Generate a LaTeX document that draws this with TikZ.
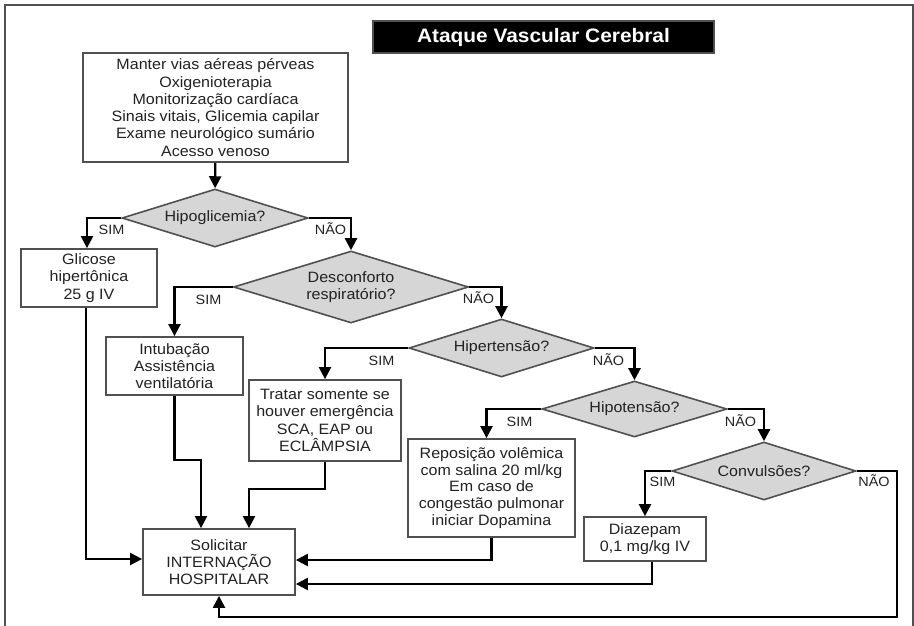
\documentclass[tikz,border=0pt]{standalone}
\usepackage{fontspec}
\setmainfont{Liberation Sans}[FakeStretch=1.07]
\usetikzlibrary{shapes.geometric,arrows.meta}
\definecolor{txt}{HTML}{222222}
\definecolor{bord}{HTML}{505050}
\definecolor{dfill}{HTML}{D6D6D6}
\begin{document}
\begin{tikzpicture}[x=1pt,y=-1pt,
  box/.style={draw=bord, line width=1.8pt, fill=white, text=txt, align=center, inner sep=0pt, font=\fontsize{15}{17.3}\selectfont},
  dia/.style={diamond, draw=bord, line width=1.6pt, fill=dfill, text=txt, align=center, inner sep=0pt, aspect=3.2, font=\fontsize{15}{17.6}\selectfont},
  conn/.style={line width=2.3pt, -{Triangle[length=12pt,width=12pt]}},
  lab/.style={text=txt, font=\fontsize{13.5}{16}\selectfont, anchor=base, inner sep=0pt}]
\useasboundingbox (0,0) rectangle (914,625);
\fill[white] (0,0) rectangle (914,625);
\draw[bord, line width=1.6pt] (5,640) -- (5,5) -- (913,5) -- (913,640);

\node[fill=black, draw=bord, line width=1.2pt, minimum width=341pt, minimum height=32pt, inner sep=0pt,
      text=white, font=\bfseries\fontsize{19.5}{22}\selectfont] (title) at (543.5,37) {Ataque Vascular Cerebral};

\node[box, minimum width=265pt, minimum height=109pt] (top) at (215.5,107.5)
  {Manter vias aéreas pérveas\\Oxigenioterapia\\Monitorização cardíaca\\Sinais vitais, Glicemia capilar\\Exame neurológico sumário\\Acesso venoso};

\node[dia, minimum width=186pt, minimum height=58pt] (d1) at (215,218) {Hipoglicemia?};
\node[dia, minimum width=235pt, minimum height=72pt] (d2) at (351,287) {Desconforto\\respiratório?};
\node[dia, minimum width=185pt, minimum height=58pt] (d3) at (501.5,348) {Hipertensão?};
\node[dia, minimum width=185pt, minimum height=56pt] (d4) at (634.5,409) {Hipotensão?};
\node[dia, minimum width=184pt, minimum height=58pt] (d5) at (764,471) {Convulsões?};

\node[box, minimum width=136pt, minimum height=58pt] (glic) at (89,278) {Glicose\\hipertônica\\25 g IV};
\node[box, minimum width=137pt, minimum height=58pt] (intub) at (174.5,366) {Intubação\\Assistência\\ventilatória};
\node[box, minimum width=152pt, minimum height=81pt] (trat) at (325,420.5) {Tratar somente se\\houver emergência\\SCA, EAP ou\\ECLÂMPSIA};
\node[box, minimum width=167pt, minimum height=98pt, font=\fontsize{15}{16.7}\selectfont] (repos) at (491.5,488) {Reposição volêmica\\com salina 20 ml/kg\\Em caso de\\congestão pulmonar\\iniciar Dopamina};
\node[box, minimum width=122pt, minimum height=44pt] (diaz) at (645,539) {Diazepam\\0,1 mg/kg IV};
\node[box, minimum width=152pt, minimum height=66pt] (solic) at (219,562) {Solicitar\\INTERNAÇÃO\\HOSPITALAR};

\coordinate (c1) at (897,617);

\draw[conn] (top) -- (d1);
\draw[conn] (d1.west) -| ([xshift=-2pt]glic.north);
\draw[conn] (d1.east) -| (d2.north);
\draw[conn] (d2.west) -| (intub.north);
\draw[conn] (d2.east) -| (d3.north);
\draw[conn] (d3.west) -| (trat.north);
\draw[conn] (d3.east) -| (d4.north);
\draw[conn] (d4.west) -| ([xshift=-5pt]repos.north);
\draw[conn] (d4.east) -| (d5.north);
\draw[conn] (d5.west) -| (diaz.north);
\draw[conn] (d5.east) -| (c1) -| (solic.south);
\draw[conn] ([xshift=-3pt]glic.south) |- ([yshift=3pt]solic.west);
\draw[conn] (intub.south) -- ++(0,64) -| ([xshift=-18pt]solic.north);
\draw[conn] (trat.south) -- ++(0,27) -| ([xshift=30pt]solic.north);
\draw[conn] (repos.south) |- ([yshift=2pt]solic.east);
\draw[conn] ([xshift=7pt]diaz.south) |- ([yshift=-22pt]solic.east);

\node[lab] (s1) at (111.5,234) {SIM};
\node[lab] (n1) at (330.5,234) {NÃO};
\node[lab] (s2) at (208.5,304) {SIM};
\node[lab] (n2) at (478.5,303.5) {NÃO};
\node[lab] (s3) at (381.5,365.5) {SIM};
\node[lab] (n3) at (608.5,365.5) {NÃO};
\node[lab] (s4) at (519.5,426) {SIM};
\node[lab] (n4) at (740.5,426) {NÃO};
\node[lab] (s5) at (662.5,486.5) {SIM};
\node[lab] (n5) at (874,486.5) {NÃO};
\end{tikzpicture}
\end{document}
